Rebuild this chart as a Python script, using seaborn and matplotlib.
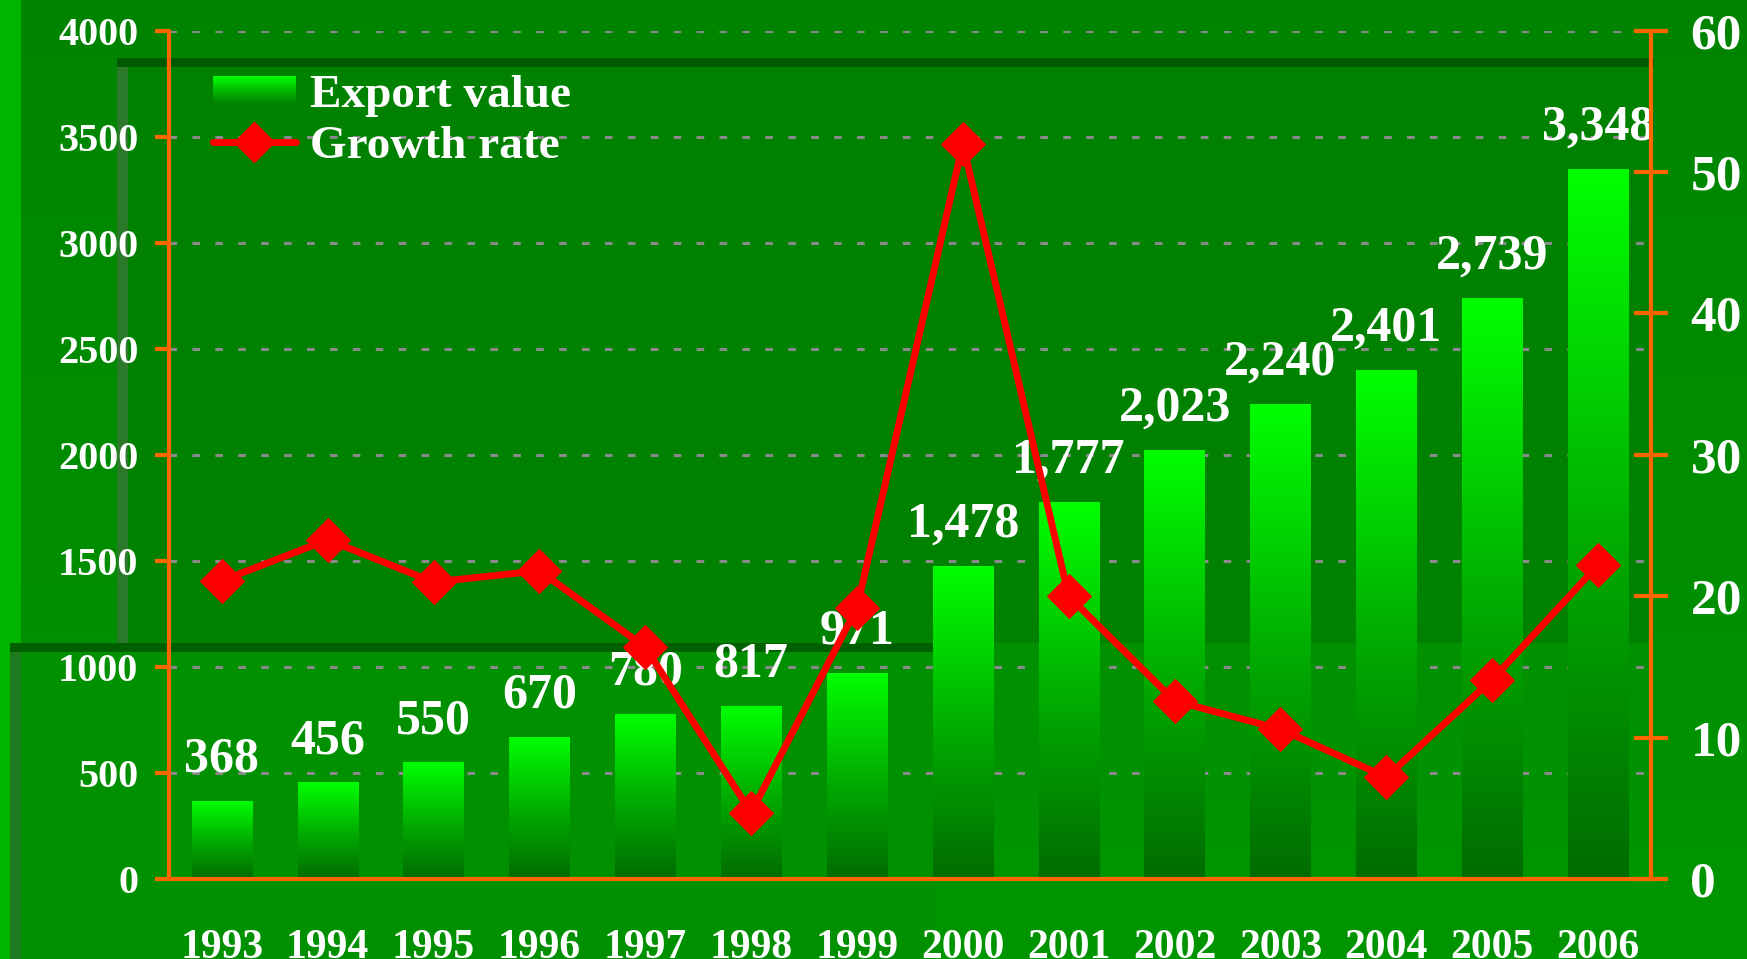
import numpy as np
import pandas as pd
import seaborn as sns
import matplotlib.pyplot as plt
from matplotlib.patches import Rectangle
from matplotlib.colors import LinearSegmentedColormap
from matplotlib.legend_handler import HandlerBase
from matplotlib.lines import Line2D

# data
years = ["1993", "1994", "1995", "1996", "1997", "1998", "1999",
         "2000", "2001", "2002", "2003", "2004", "2005", "2006"]
export_value = [368, 456, 550, 670, 780, 817, 971,
                1478, 1777, 2023, 2240, 2401, 2739, 3348]
growth_rate = [21.1, 24.0, 21.0, 21.8, 16.4, 4.7, 19.2,
               52.0, 20.0, 12.6, 10.6, 7.2, 14.1, 22.2]

orange = "#ff6600"
bar_cmap = LinearSegmentedColormap.from_list(
    "bargrad", [(0, "#006c00"), (0.45, "#00a800"), (1, "#00ff00")])

sns.set_theme(style="white")
plt.rcParams["font.family"] = ["Liberation Serif", "DejaVu Serif"]
plt.rcParams["font.weight"] = "bold"

df = pd.DataFrame({"year": years, "export": export_value, "growth": growth_rate})

fig = plt.figure(figsize=(17.47, 9.59), dpi=100)

# background with a bit of the 3d wall look
bg = fig.add_axes([0, 0, 1, 1], zorder=-10)
grad = np.linspace(0, 1, 256).reshape(-1, 1)
bg_cmap = LinearSegmentedColormap.from_list("bg", ["#009600", "#008400"])
bg.imshow(grad, cmap=bg_cmap, aspect="auto", extent=[0, 1, 0, 1], origin="lower")
bg.add_patch(Rectangle((0, 0), 0.012, 1, color="#00b400", lw=0))
bg.add_patch(Rectangle((0.067, 0.33), 0.88, 0.61, color="#008200", lw=0))
bg.add_patch(Rectangle((0.067, 0.93), 0.88, 0.009, color="#005a00", lw=0))
bg.add_patch(Rectangle((0.067, 0.33), 0.006, 0.60, color="#2a7a2a", lw=0))
bg.add_patch(Rectangle((0.006, 0.0), 0.53, 0.33, color="#009000", lw=0))
bg.add_patch(Rectangle((0.006, 0.32), 0.53, 0.009, color="#006000", lw=0))
bg.add_patch(Rectangle((0.006, 0.0), 0.006, 0.32, color="#1f7a1f", lw=0))
bg.set_xlim(0, 1)
bg.set_ylim(0, 1)
bg.axis("off")

ax = fig.add_axes([0.0967, 0.0834, 0.8483, 0.8846])
ax.patch.set_alpha(0)
sns.barplot(data=df, x="year", y="export", color="#00dd00", width=0.57,
            ax=ax, zorder=2)

# gradient fill for each bar
for p in ax.patches:
    x0, y0 = p.get_x(), p.get_y()
    w, h = p.get_width(), p.get_height()
    im = ax.imshow(grad, cmap=bar_cmap, aspect="auto", origin="lower",
                   extent=[x0, x0 + w, y0, y0 + h], zorder=2)
    im.set_clip_path(p)
    p.set_alpha(0)

ax.set_xlim(-0.5, 13.5)
ax.set_ylim(0, 4000)
ax.set_yticks(range(0, 4001, 500))
ax.yaxis.grid(True, color="#8a8a8a", linestyle=(0, (2.5, 5)), lw=2.2, zorder=1)
ax.set_axisbelow(True)

for i, v in enumerate(export_value):
    ax.annotate(f"{v:,}", (i, v), xytext=(0, 21), textcoords="offset points",
                ha="center", va="baseline", color="white", fontsize=36,
                fontweight="bold", zorder=5)

ax.set_xlabel("")
ax.set_ylabel("")
for s in ["top", "right"]:
    ax.spines[s].set_visible(False)
for s in ["left", "bottom"]:
    ax.spines[s].set_color(orange)
    ax.spines[s].set_linewidth(3)
    ax.spines[s].set_capstyle("round")

ax.set_xticks(range(len(years)))
ax.set_xticklabels(years)
ax.set_xticks(np.arange(-0.5, 13.6, 1), minor=True)
ax.tick_params(axis="x", which="major", length=0, pad=36, labelsize=30,
               labelcolor="white")
ax.tick_params(axis="x", which="minor", direction="out", length=10, width=3,
               color=orange)
ax.tick_params(axis="y", direction="out", length=10, width=3, color=orange,
               pad=12, labelsize=29, labelcolor="white", left=True)

ax2 = ax.twinx()
sns.lineplot(data=df, x="year", y="growth", color="red", lw=5, marker="D",
             markersize=22, markeredgecolor="red", ax=ax2, sort=False)
ax2.set_xlim(-0.5, 13.5)
ax2.set_ylim(0, 60)
ax2.set_yticks(range(0, 61, 10))
ax2.set_ylabel("")
ax2.set_xlabel("")
for s in ["top", "left", "bottom"]:
    ax2.spines[s].set_visible(False)
ax2.spines["right"].set_color(orange)
ax2.spines["right"].set_linewidth(3)
ax2.tick_params(axis="y", direction="inout", length=25, width=3, color=orange,
                pad=16, labelsize=37, labelcolor="white", right=True)
ax2.grid(False)


class GradientHandler(HandlerBase):
    def create_artists(self, legend, orig_handle, xdescent, ydescent,
                       width, height, fontsize, trans):
        arts = []
        n = 20
        h = height * 0.85
        y0 = -ydescent + (height - h) / 2
        for k in range(n):
            r = Rectangle((-xdescent, y0 + h * k / n), width,
                          h / n + 0.3, color=bar_cmap(0.15 + 0.85 * k / n),
                          lw=0, transform=trans)
            arts.append(r)
        return arts


bar_handle = Rectangle((0, 0), 1, 1)
line_handle = Line2D([], [], color="red", lw=5, marker="D", markersize=20)
leg = fig.legend([bar_handle, line_handle], ["Export value", "Growth rate"],
                 handler_map={Rectangle: GradientHandler()},
                 loc="upper left", bbox_to_anchor=(213 / 1747, 1 - 74 / 959),
                 frameon=False, prop={"size": 34, "weight": "bold"},
                 labelcolor="white", handlelength=1.75, handletextpad=0.3,
                 labelspacing=0.17, borderpad=0, borderaxespad=0)

fig.savefig("out.png", dpi=100)
